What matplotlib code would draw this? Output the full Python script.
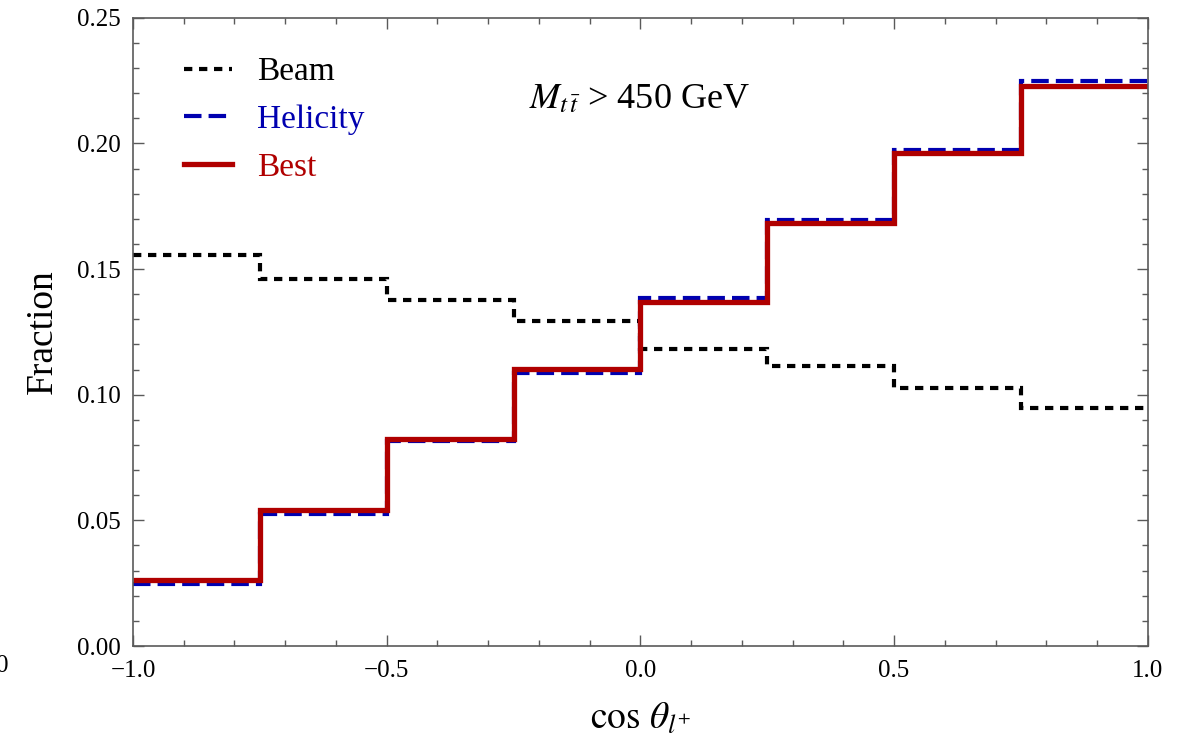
import numpy as np
import matplotlib
matplotlib.use("Agg")
import matplotlib.pyplot as plt
from matplotlib.ticker import MultipleLocator, FuncFormatter

plt.rcParams["font.family"] = ["Liberation Serif", "DejaVu Serif"]
plt.rcParams["mathtext.fontset"] = "stix"

# bin edges in cos(theta_l+) and the fraction of events per bin
edges = [-1.0, -0.75, -0.5, -0.25, 0.0, 0.25, 0.5, 0.75, 1.0]
beam = [0.1557, 0.1462, 0.1376, 0.1295, 0.1181, 0.1115, 0.1028, 0.0949]
helicity = [0.0248, 0.0525, 0.0815, 0.1086, 0.1386, 0.1696, 0.1972, 0.2247]
best = [0.0262, 0.0541, 0.0822, 0.1102, 0.1367, 0.1682, 0.1962, 0.2227]

red = "#b00000"
blue = "#0000b0"
axis_grey = "#5a5a5a"


def fmt(ndig):
    return FuncFormatter(lambda v, pos: f"{v:.{ndig}f}".replace("-", "\u2212"))


fig = plt.figure(figsize=(11.87, 7.40), dpi=100)
ax = fig.add_axes([0.112, 0.127, 0.855, 0.849])

ax.stairs(beam, edges, baseline=None, color="black", lw=3.0,
          ls=(0, (2.0, 1.6)), label="Beam")
ax.stairs(helicity, edges, baseline=None, color=blue, lw=3.0,
          ls=(0, (4.2, 1.7)), label="Helicity")
ax.stairs(best, edges, baseline=None, color=red, lw=3.8, label="Best")

ax.set_xlim(-1, 1)
ax.set_ylim(0, 0.25)

ax.xaxis.set_major_locator(MultipleLocator(0.5))
ax.xaxis.set_minor_locator(MultipleLocator(0.1))
ax.yaxis.set_major_locator(MultipleLocator(0.05))
ax.yaxis.set_minor_locator(MultipleLocator(0.01))
ax.xaxis.set_major_formatter(fmt(1))
ax.yaxis.set_major_formatter(fmt(2))

ax.tick_params(which="both", direction="in", top=True, right=True,
               color=axis_grey, labelsize=18, width=1.0)
ax.tick_params(which="major", length=8)
ax.tick_params(which="minor", length=4.5)
ax.tick_params(axis="x", which="major", pad=10)
ax.tick_params(axis="y", which="major", pad=9)
for s in ax.spines.values():
    s.set_color(axis_grey)
    s.set_linewidth(1.2)

ax.set_xlabel(r"$\cos\,\theta_{l^{+}}$", fontsize=27, labelpad=14)
ax.set_ylabel("Fraction", fontsize=27, labelpad=12)

ax.text(-0.22, 0.2175, r"$M_{t\,\bar{t}}$ > 450 GeV", fontsize=26,
        va="center", ha="left")

leg = ax.legend(loc="upper left", bbox_to_anchor=(0.027, 0.975), frameon=False,
                fontsize=24, handlelength=1.45, handletextpad=0.75,
                labelspacing=0.52, borderaxespad=0.3)
for txt, line in zip(leg.get_texts(), leg.get_lines()):
    txt.set_color(line.get_color())

# leftover tick label at the edge of the canvas
fig.text(-0.003, 1 - 666 / 740, "0", fontsize=18, va="center", ha="left")

fig.savefig("out.png", dpi=100)
